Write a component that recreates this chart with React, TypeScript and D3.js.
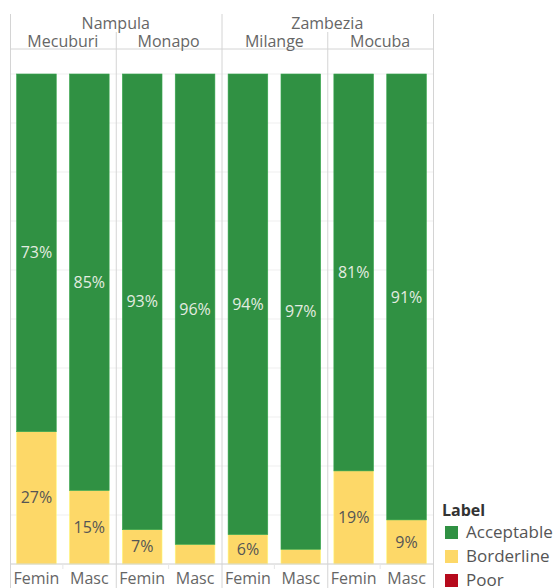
import React from "react";
import * as d3 from "d3";

const provinces = ["Nampula", "Zambezia"];
const districts = ["Mecuburi", "Monapo", "Milange", "Mocuba"];
const districtProvince = ["Nampula", "Nampula", "Zambezia", "Zambezia"];
const sexes = ["Femin", "Masc"];
// order: Mecuburi F, M, Monapo F, M, Milange F, M, Mocuba F, M
const acceptable = [73, 85, 93, 96, 94, 97, 81, 91];
const borderline = [27, 15, 7, 4, 6, 3, 19, 9];
const poor = [0, 0, 0, 0, 0, 0, 0, 0];
const categories = ["Acceptable", "Borderline", "Poor"];
const colors = ["#309143", "#fdd868", "#b60a1c"];
const yTicks = [0, 10, 20, 30, 40, 50, 60, 70, 80, 90, 100];

const W = 556;
const H = 588;
const left = 10;
const right = 433;
const paneTop = 49;
const base = 564;
const font = "'Open Sans', sans-serif";

export default function App() {
  const xOuter = d3.scaleBand<string>().domain(districts).range([left, right]).padding(0);
  const xInner = d3
    .scaleBand<string>()
    .domain(sexes)
    .range([0, xOuter.bandwidth()])
    .paddingInner(0.25)
    .paddingOuter(0.125);
  const y = d3.scaleLinear().domain([0, 100]).range([base, 74]);

  const rows = districts.flatMap((d, i) =>
    sexes.map((s, j) => {
      const k = i * 2 + j;
      return { district: d, sex: s, values: [acceptable[k], borderline[k], poor[k]] };
    })
  );

  const stackOrder = [2, 1, 0]; // poor bottom, borderline, acceptable top
  const grid = "#d4d4d4";

  return (
    <svg
      width={W}
      height={H}
      style={{ position: "absolute", left: 0, top: 0, fontFamily: font }}
    >
      <rect width={W} height={H} fill="#fff" />
      {/* gridlines */}
      {yTicks.map((t) => (
        <line key={t} x1={left} x2={right} y1={y(t)} y2={y(t)} stroke="#efefef" strokeWidth={1} />
      ))}
      {/* bars */}
      {rows.map((r) => {
        const x0 = (xOuter(r.district) as number) + (xInner(r.sex) as number);
        const bw = xInner.bandwidth();
        let cum = 0;
        const segs = stackOrder.map((ci) => {
          const v = r.values[ci];
          const s = { ci, v, y0: cum, y1: cum + v };
          cum += v;
          return s;
        });
        return (
          <g key={r.district + r.sex}>
            {segs
              .filter((s) => s.v > 0)
              .map((s) => (
                <rect
                  key={s.ci}
                  x={x0}
                  width={bw}
                  y={y(s.y1)}
                  height={y(s.y0) - y(s.y1)}
                  fill={colors[s.ci]}
                  stroke={d3.color(colors[s.ci])!.brighter(0.4).toString()}
                  strokeWidth={0.6}
                />
              ))}
            {segs
              .filter((s) => s.v > 0 && y(s.y0) - y(s.y1) >= 24)
              .map((s) => (
                <text
                  key={"t" + s.ci}
                  x={x0 + bw / 2}
                  y={(y(s.y0) + y(s.y1)) / 2}
                  dy="0.35em"
                  textAnchor="middle"
                  fontSize={16}
                  fill={s.ci === 0 ? "#e3ece0" : "#555"}
                >
                  {s.v}%
                </text>
              ))}
          </g>
        );
      })}
      {/* header & pane lines */}
      <line x1={left} x2={right} y1={paneTop} y2={paneTop} stroke={grid} />
      <line x1={left} x2={right} y1={base} y2={base} stroke={grid} />
      {districts.map((d, i) => {
        const x = xOuter(d) as number;
        const isProvStart = i === 0 || districtProvince[i] !== districtProvince[i - 1];
        return (
          <line
            key={"v" + d}
            x1={x + 0.5}
            x2={x + 0.5}
            y1={isProvStart ? 14 : 32}
            y2={H}
            stroke={grid}
          />
        );
      })}
      <line x1={right + 0.5} x2={right + 0.5} y1={14} y2={H} stroke={grid} />
      {/* small ticks between sex bands */}
      {districts.map((d) => (
        <line
          key={"tk" + d}
          x1={(xOuter(d) as number) + xOuter.bandwidth() / 2}
          x2={(xOuter(d) as number) + xOuter.bandwidth() / 2}
          y1={base}
          y2={base + 5}
          stroke="#e6e6e6"
        />
      ))}
      {/* province headers */}
      {provinces.map((p) => {
        const idx = districts.filter((_, i) => districtProvince[i] === p);
        const x0 = xOuter(idx[0]) as number;
        const x1 = (xOuter(idx[idx.length - 1]) as number) + xOuter.bandwidth();
        return (
          <text key={p} x={(x0 + x1) / 2} y={29} textAnchor="middle" fontSize={16} fill="#666">
            {p}
          </text>
        );
      })}
      {districts.map((d) => (
        <text
          key={"h" + d}
          x={(xOuter(d) as number) + xOuter.bandwidth() / 2}
          y={47}
          textAnchor="middle"
          fontSize={16}
          fill="#666"
        >
          {d}
        </text>
      ))}
      {/* x labels */}
      {districts.flatMap((d) =>
        sexes.map((s) => (
          <text
            key={"x" + d + s}
            x={(xOuter(d) as number) + (xInner(s) as number) + xInner.bandwidth() / 2}
            y={584}
            textAnchor="middle"
            fontSize={16}
            fill="#666"
          >
            {s}
          </text>
        ))
      )}
      {/* legend */}
      <text x={442} y={516} fontSize={16} fontWeight="bold" fill="#333">
        Label
      </text>
      {categories.map((c, i) => (
        <g key={c} transform={`translate(445, ${526 + i * 24})`}>
          <rect width={13} height={13} fill={colors[i]} />
          <text x={21} y={6.5} dy="0.35em" fontSize={17} fill="#555">
            {c}
          </text>
        </g>
      ))}
    </svg>
  );
}
